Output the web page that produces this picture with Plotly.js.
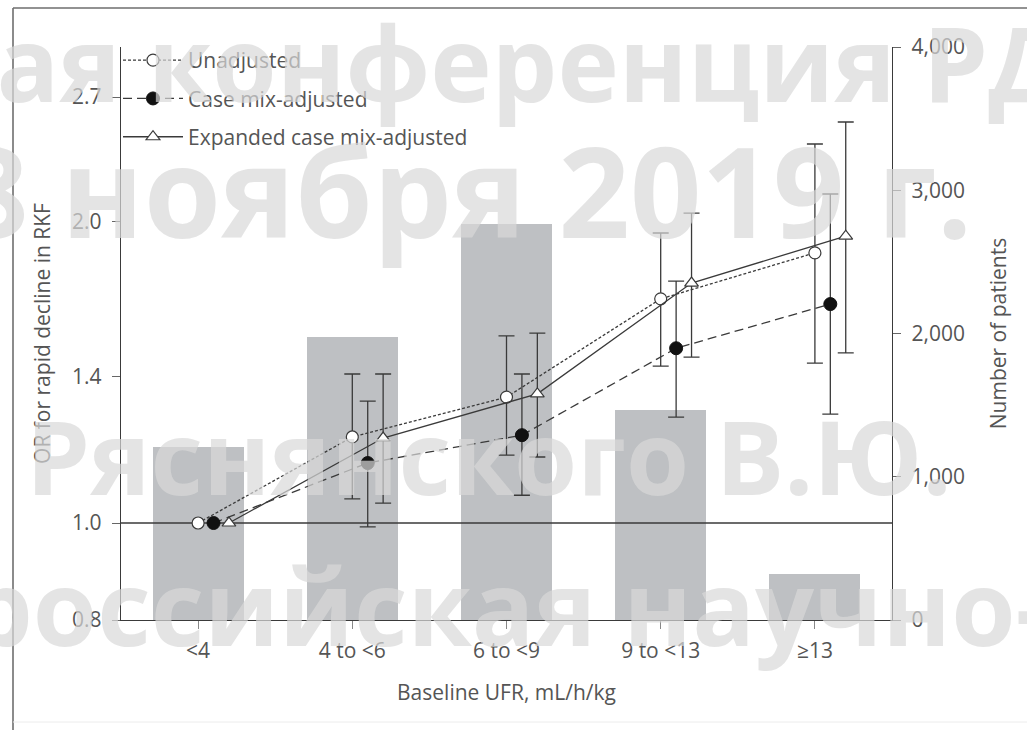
<!DOCTYPE html>
<html>
<head>
<meta charset="utf-8">
<script src="https://cdn.plot.ly/plotly-3.0.1.min.js"></script>
<style>
  html, body { margin: 0; padding: 0; background: #ffffff; }
  #chart { width: 1027px; height: 730px; }
</style>
</head>
<body>
<div id="chart"></div>
<script>
// ---- data ----
const categories = ['<4', '4 to <6', '6 to <9', '9 to <13', '\u226513'];
const patients = [1210, 1975, 2765, 1465, 320];

const orUnadjusted   = [1.0, 1.219, 1.336, 1.675, 1.862];
const orUnadjustedHi = [NaN, 1.409, 1.538, 1.949, 2.392];
const orUnadjustedLo = [NaN, 1.057, 1.169, 1.435, 1.445];

const orCaseMix   = [1.0, 1.148, 1.224, 1.495, 1.655];
const orCaseMixHi = [NaN, 1.324, 1.409, 1.745, 2.132];
const orCaseMixLo = [NaN, 0.991, 1.066, 1.276, 1.285];

const orExpanded   = [1.0, 1.216, 1.346, 1.737, 1.935];
const orExpandedHi = [NaN, 1.409, 1.548, 2.040, 2.516];
const orExpandedLo = [NaN, 1.047, 1.164, 1.465, 1.479];

const orTickVals  = [0.8, 1.0, 1.4, 2.0, 2.665];
const orTickText  = ['0.8', '1.0', '1.4', '2.0', '2.7'];
const patientTicks = [0, 1000, 2000, 3000, 4000];

const watermarkLines = ['кая конференция РД', '8 ноября 2019 г.', 'Ряснянского В.Ю.', 'российская научно-'];

// ---- geometry helpers ----
const W = 1027, H = 730;
const M = { l: 121, r: 135, t: 47, b: 110 };
const PW = W - M.l - M.r, PH = H - M.t - M.b;
const px2x = p => (p - M.l) / PW;
const px2y = p => (H - M.b - p) / PH;

const idx = categories.map((c, i) => i);
const xRange = [-0.5, categories.length - 0.5];
const ink = '#3a3a3a';
const textCol = '#555555';
const FONT = '"Open Sans", "DejaVu Sans", sans-serif';
const FS = 21;

function errs(v, hi, lo) {
  return {
    type: 'data', symmetric: false,
    array: v.map((d, i) => hi[i] - d),
    arrayminus: v.map((d, i) => d - lo[i]),
    color: ink, thickness: 1.3, width: 8
  };
}

const bars = {
  type: 'bar', x: idx, y: patients, yaxis: 'y', xaxis: 'x',
  width: 0.59, marker: { color: '#bec0c3', line: { width: 0 } },
  showlegend: false, hoverinfo: 'skip'
};

const refLine = {
  type: 'scatter', mode: 'lines', x: xRange, y: [1, 1], yaxis: 'y2',
  line: { color: ink, width: 1.3 }, showlegend: false, hoverinfo: 'skip'
};

const unadj = {
  type: 'scatter', mode: 'lines+markers', name: 'Unadjusted', legendgroup: 'a',
  x: idx.map(i => i), y: orUnadjusted, yaxis: 'y2',
  error_y: errs(orUnadjusted, orUnadjustedHi, orUnadjustedLo),
  line: { color: ink, width: 1.3, dash: '3px,2px' },
  marker: { symbol: 'circle', size: 12, color: '#ffffff', line: { color: ink, width: 1.2 } }
};
const caseMix = {
  type: 'scatter', mode: 'lines+markers', name: 'Case mix-adjusted', legendgroup: 'b',
  x: idx.map(i => i + 0.1), y: orCaseMix, yaxis: 'y2',
  error_y: errs(orCaseMix, orCaseMixHi, orCaseMixLo),
  line: { color: ink, width: 1.3, dash: '9px,5px' },
  marker: { symbol: 'circle', size: 13, color: '#111111', line: { color: '#111111', width: 1 } }
};
const expanded = {
  type: 'scatter', mode: 'lines+markers', name: 'Expanded case mix-adjusted', legendgroup: 'c',
  x: idx.map(i => i + 0.2), y: orExpanded, yaxis: 'y2',
  error_y: errs(orExpanded, orExpandedHi, orExpandedLo),
  line: { color: ink, width: 1.3 },
  marker: { symbol: 'triangle-up', size: 12, color: '#ffffff', line: { color: ink, width: 1.2 } }
};

const wm = [
  { t: watermarkLines[0], x: -70, y: 62, s: 104 },
  { t: watermarkLines[1], x: -45, y: 190, s: 125 },
  { t: watermarkLines[2], x: 24, y: 455, s: 102 },
  { t: watermarkLines[3], x: -35, y: 605, s: 104 }
];
const annotations = wm.map(w => ({
  text: w.t, xref: 'paper', yref: 'paper', x: px2x(w.x), y: px2y(w.y),
  xanchor: 'left', yanchor: 'middle', showarrow: false,
  font: { family: FONT, size: w.s, color: 'rgba(216,216,216,0.7)', weight: 700 }
}));

const shapes = [
  { type: 'line', xref: 'paper', yref: 'paper', x0: px2x(13), x1: px2x(1027), y0: px2y(8), y1: px2y(8),
    line: { color: '#6e6e6e', width: 1.6 } },
  { type: 'line', xref: 'paper', yref: 'paper', x0: px2x(13), x1: px2x(13), y0: px2y(8), y1: px2y(730),
    line: { color: '#6e6e6e', width: 1.6 } },
  { type: 'line', xref: 'paper', yref: 'paper', x0: px2x(13), x1: px2x(1027), y0: px2y(722), y1: px2y(722),
    line: { color: '#ececec', width: 1 } }
];

const layout = {
  width: W, height: H,
  margin: M,
  paper_bgcolor: '#ffffff', plot_bgcolor: 'rgba(0,0,0,0)',
  font: { family: FONT, size: FS, color: textCol },
  showlegend: true,
  legend: {
    x: px2x(118), y: px2y(40), xanchor: 'left', yanchor: 'top',
    bgcolor: 'rgba(0,0,0,0)', font: { size: FS, color: textCol },
    traceorder: 'grouped', tracegroupgap: 8, itemwidth: 60
  },
  xaxis: {
    range: xRange, tickmode: 'array', tickvals: idx, ticktext: categories,
    showline: true, linecolor: ink, linewidth: 1.3, ticks: 'outside', ticklen: 8,
    tickcolor: '#888', showgrid: false, zeroline: false, fixedrange: true,
    ticklabelstandoff: 3,
    tickfont: { size: FS, color: textCol },
    title: { text: 'Baseline UFR, mL/h/kg', font: { size: FS, color: textCol }, standoff: 22 }
  },
  yaxis: {
    side: 'right', range: [0, 4000], tickmode: 'array', tickvals: patientTicks, tickformat: ',',
    showline: true, linecolor: ink, linewidth: 1.3, ticks: 'outside', ticklen: 8, tickcolor: '#666',
    ticklabelstandoff: 6,
    showgrid: false, zeroline: false, tickfont: { size: FS, color: textCol },
    title: { text: 'Number of patients', font: { size: FS, color: textCol }, standoff: 27 }
  },
  yaxis2: {
    overlaying: 'y', side: 'left', type: 'log',
    range: [Math.log10(0.8), Math.log10(2.99)],
    tickmode: 'array', tickvals: orTickVals, ticktext: orTickText,
    showline: true, linecolor: ink, linewidth: 1.3, ticks: 'outside', ticklen: 8, tickcolor: '#666',
    ticklabelstandoff: 6,
    showgrid: false, zeroline: false, tickfont: { size: FS, color: textCol },
    title: { text: 'OR for rapid decline in RKF', font: { size: FS, color: textCol }, standoff: 15 }
  },
  shapes: shapes,
  annotations: annotations,
  bargap: 0
};

Plotly.newPlot('chart', [bars, refLine, unadj, caseMix, expanded], layout,
  { staticPlot: true, displayModeBar: false });
</script>
</body>
</html>
